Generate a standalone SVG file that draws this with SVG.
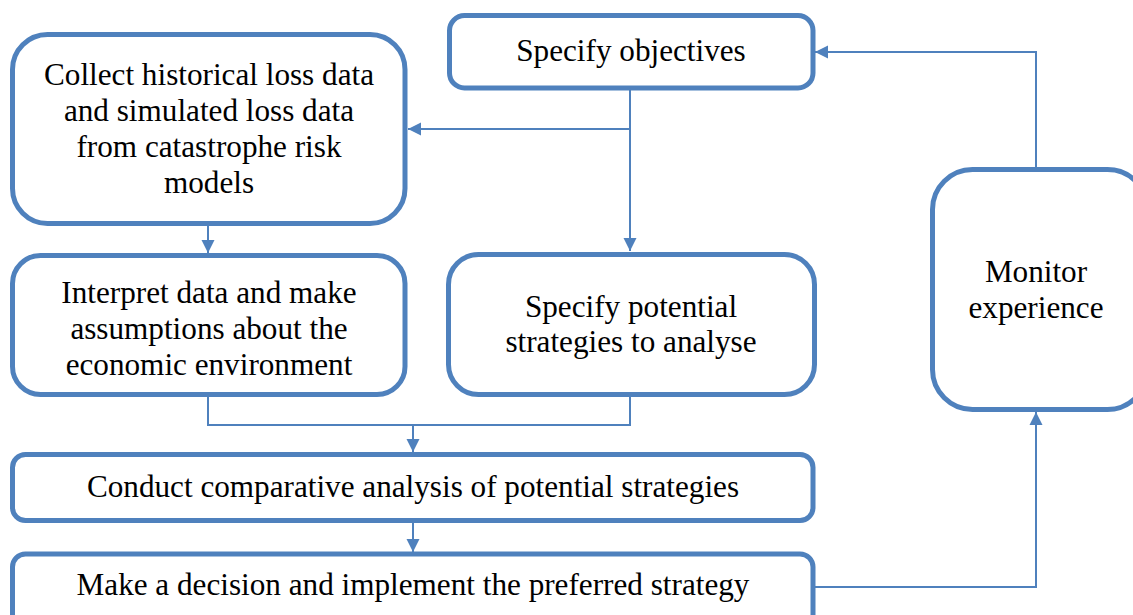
<svg xmlns="http://www.w3.org/2000/svg" width="1133" height="615" viewBox="0 0 1133 615">
  <defs>
    <marker id="arrow" markerUnits="userSpaceOnUse" markerWidth="14" markerHeight="14" viewBox="0 -7 14 14" refX="13" refY="0" orient="auto">
      <path d="M0,-6.5 L13,0 L0,6.5 Z" fill="#4F81BD"/>
    </marker>
    <style>
      .box { fill: #FFFFFF; stroke: #4F81BD; stroke-width: 5; }
      .lbl { font-family: "Liberation Serif", "Times New Roman", serif; font-size: 31.2px; fill: #000000; text-anchor: middle; }
      .conn { fill: none; stroke: #4F81BD; stroke-width: 2; }
    </style>
  </defs>
  <rect width="1133" height="615" fill="#FFFFFF"/>

  <!-- connectors -->
  <g id="connectors">
    <path class="conn" d="M630,90 V251" marker-end="url(#arrow)"/>
    <path class="conn" d="M630,129 H408" marker-end="url(#arrow)"/>
    <path class="conn" d="M208,226 V253" marker-end="url(#arrow)"/>
    <path class="conn" d="M208,397 V425 H630 V397"/>
    <path class="conn" d="M413,425 V452" marker-end="url(#arrow)"/>
    <path class="conn" d="M413,523 V552" marker-end="url(#arrow)"/>
    <path class="conn" d="M815,587 H1036 V412" marker-end="url(#arrow)"/>
    <path class="conn" d="M1036,167 V52 H815" marker-end="url(#arrow)"/>
  </g>

  <g id="collect">
    <rect class="box" x="12.5" y="34.5" width="392.5" height="189" rx="35"/>
    <text class="lbl" x="209" y="85">Collect historical loss data</text>
    <text class="lbl" x="209" y="121">and simulated loss data</text>
    <text class="lbl" x="209" y="157">from catastrophe risk</text>
    <text class="lbl" x="209" y="193">models</text>
  </g>

  <g id="objectives">
    <rect class="box" x="449.5" y="15.5" width="363.5" height="72.5" rx="15"/>
    <text class="lbl" x="631" y="61">Specify objectives</text>
  </g>

  <g id="interpret">
    <rect class="box" x="12.5" y="255.5" width="392.5" height="139" rx="28"/>
    <text class="lbl" x="209" y="303">Interpret data and make</text>
    <text class="lbl" x="209" y="339">assumptions about the</text>
    <text class="lbl" x="209" y="375">economic environment</text>
  </g>

  <g id="potential">
    <rect class="box" x="448.5" y="254.5" width="366" height="140" rx="30"/>
    <text class="lbl" x="631" y="317">Specify potential</text>
    <text class="lbl" x="631" y="352">strategies to analyse</text>
  </g>

  <g id="monitor">
    <rect class="box" x="932.5" y="169.5" width="215" height="240" rx="40"/>
    <text class="lbl" x="1036" y="282">Monitor</text>
    <text class="lbl" x="1036" y="318">experience</text>
  </g>

  <g id="conduct">
    <rect class="box" x="12.5" y="454.5" width="800.5" height="66" rx="13"/>
    <text class="lbl" x="413" y="497">Conduct comparative analysis of potential strategies</text>
  </g>

  <g id="decide">
    <rect class="box" x="12.5" y="554" width="800.5" height="80" rx="13"/>
    <text class="lbl" x="413" y="595">Make a decision and implement the preferred strategy</text>
  </g>
</svg>
